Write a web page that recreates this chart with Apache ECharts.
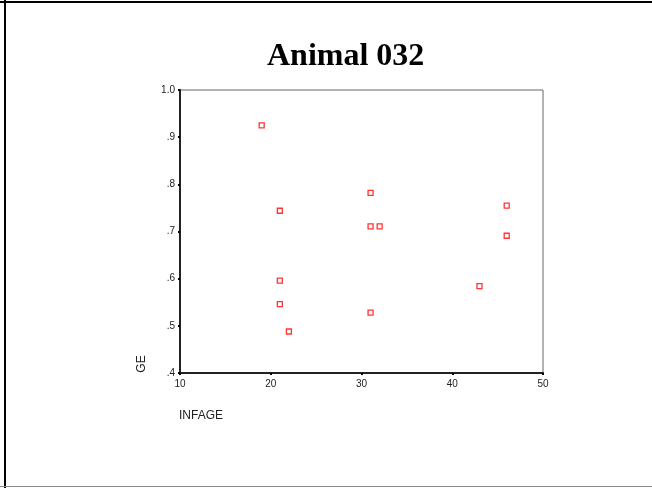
<!DOCTYPE html>
<html>
<head>
<meta charset="utf-8">
<script src="https://cdn.jsdelivr.net/npm/echarts@6/dist/echarts.min.js"></script>
<style>
html,body{margin:0;padding:0;background:#fff;}
#chart{width:652px;height:488px;}
</style>
</head>
<body>
<div id="chart"></div>
<script>
var chartTitle = 'Animal 032';
var xName = 'INFAGE';
var yName = 'GE';
var infage = [19, 21, 31, 31, 32, 46, 46, 21, 21, 22, 31, 43];
var ge = [0.925, 0.744, 0.782, 0.711, 0.711, 0.755, 0.691, 0.596, 0.546, 0.488, 0.528, 0.584];
var xTicks = [10, 20, 30, 40, 50];
var yTicks = [0.4, 0.5, 0.6, 0.7, 0.8, 0.9, 1.0];

var points = infage.map(function (x, i) { return [x, ge[i]]; });

var chart = echarts.init(document.getElementById('chart'), null, {renderer: 'canvas'});
chart.setOption({
  animation: false,
  backgroundColor: '#fff',
  title: {
    text: chartTitle,
    left: 262,
    top: 36,
    textStyle: {fontFamily: 'Liberation Serif', fontWeight: 'bold', fontSize: 32, color: '#000'}
  },
  grid: {
    left: 180, right: 109, top: 90, bottom: 115,
    show: true, borderColor: '#666', borderWidth: 1, backgroundColor: 'transparent'
  },
  xAxis: {
    type: 'value',
    min: xTicks[0], max: xTicks[xTicks.length - 1], interval: 10,
    splitLine: {show: false},
    axisLine: {show: true, onZero: false, lineStyle: {color: '#222', width: 2}},
    axisTick: {show: true, length: 2, lineStyle: {color: '#000', width: 2}},
    axisLabel: {fontFamily: 'Liberation Sans', fontSize: 10, color: '#222', margin: 6}
  },
  yAxis: {
    type: 'value',
    min: yTicks[0], max: yTicks[yTicks.length - 1], interval: 0.1,
    splitLine: {show: false},
    axisLine: {show: true, onZero: false, lineStyle: {color: '#222', width: 2}},
    axisTick: {show: true, length: 2, lineStyle: {color: '#000', width: 2}},
    axisLabel: {
      fontFamily: 'Liberation Sans', fontSize: 10, color: '#222', margin: 5,
      formatter: function (v) {
        var r = Math.round(v * 10) / 10;
        if (r >= 1) return '1.0';
        return '.' + Math.round(r * 10);
      }
    }
  },
  series: [{
    type: 'scatter',
    data: points,
    symbol: 'rect',
    symbolSize: 5,
    itemStyle: {color: '#fff', borderColor: '#ff0000', borderWidth: 1.3},
    emphasis: {disabled: true}
  }],
  graphic: [
    {type: 'line', shape: {x1: 0, y1: 2, x2: 652, y2: 2}, style: {stroke: '#000', lineWidth: 2}, silent: true},
    {type: 'line', shape: {x1: 5, y1: 0, x2: 5, y2: 488}, style: {stroke: '#000', lineWidth: 2}, silent: true},
    {type: 'line', shape: {x1: 0, y1: 486.5, x2: 652, y2: 486.5}, style: {stroke: '#888', lineWidth: 1}, silent: true},
    {type: 'text', x: 142, y: 364, rotation: Math.PI / 2,
      style: {text: yName, fontFamily: 'Liberation Sans', fontSize: 12, fill: '#222', align: 'center', verticalAlign: 'middle'}},
    {type: 'text', x: 179, y: 416,
      style: {text: xName, fontFamily: 'Liberation Sans', fontSize: 12, fill: '#222', align: 'left', verticalAlign: 'middle'}}
  ]
});
</script>
</body>
</html>
